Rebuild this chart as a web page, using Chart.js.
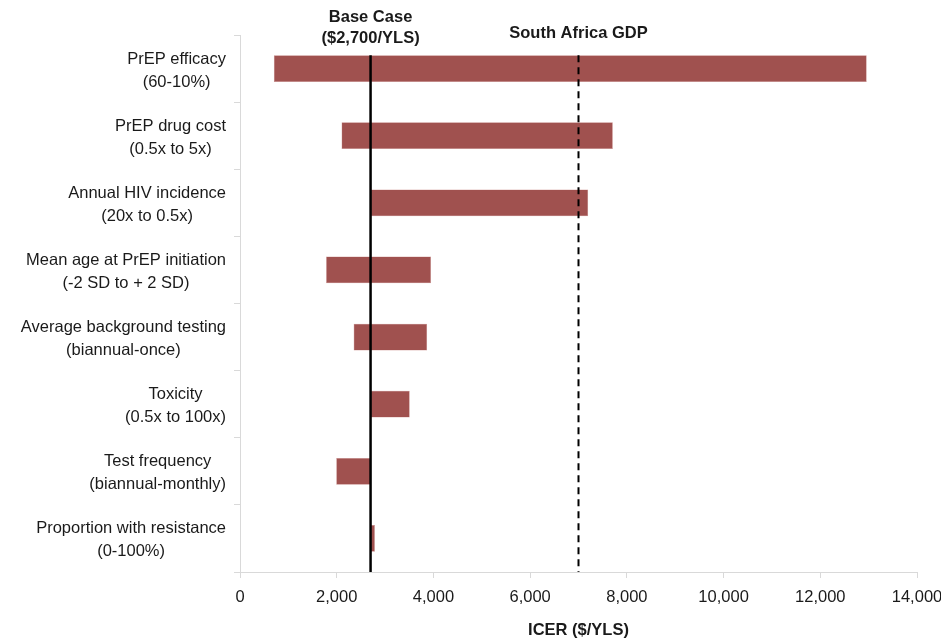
<!DOCTYPE html>
<html>
<head>
<meta charset="utf-8">
<script src="https://cdn.jsdelivr.net/npm/chart.js@4.4.0/dist/chart.umd.min.js"></script>
<style>
  html, body { margin: 0; padding: 0; background: #fff; }
  #wrap { width: 941px; height: 640px; }
</style>
</head>
<body>
<div id="wrap"><canvas id="tornado"></canvas></div>
<script>
// Parameters varied in the one-way sensitivity analysis (top to bottom)
const parameters = [
    ['PrEP efficacy', '(60-10%)'],
    ['PrEP drug cost', '(0.5x to 5x)'],
    ['Annual HIV incidence', '(20x to 0.5x)'],
    ['Mean age at PrEP initiation', '(-2 SD to + 2 SD)'],
    ['Average background testing', '(biannual-once)'],
    ['Toxicity', '(0.5x to 100x)'],
    ['Test frequency', '(biannual-monthly)'],
    ['Proportion with resistance', '(0-100%)']
];
// ICER range ($/YLS) for each parameter
const lowIcer  = [700, 2100, 2700, 1780, 2350, 2700, 1990, 2700];
const highIcer = [12960, 7710, 7200, 3950, 3870, 3510, 2700, 2790];
const xTicks = [0, 2000, 4000, 6000, 8000, 10000, 12000, 14000];

const baseCase = 2700;       // base case ICER
const gdpThreshold = 7000;   // South Africa GDP per capita

const FONT = '"Liberation Sans", Arial, sans-serif';
const FONT_SIZE = 16.5;
const TEXT = '#1a1a1a';
const AXIS = '#d9d9d9';

// Reference lines + their captions, drawn over the bars
const refLines = {
    id: 'refLines',
    afterDatasetsDraw(chart) {
        const { ctx, scales, chartArea } = chart;
        const firstBar = chart.getDatasetMeta(0).data[0];
        const top = firstBar.y - firstBar.height / 2;
        const xBase = scales.x.getPixelForValue(baseCase);
        const xGdp = scales.x.getPixelForValue(gdpThreshold);

        ctx.save();
        ctx.strokeStyle = '#000';
        ctx.lineWidth = 2.5;
        ctx.beginPath();
        ctx.moveTo(xBase, top);
        ctx.lineTo(xBase, chartArea.bottom);
        ctx.stroke();

        ctx.lineWidth = 2;
        ctx.setLineDash([7, 5]);
        ctx.beginPath();
        ctx.moveTo(xGdp, top);
        ctx.lineTo(xGdp, chartArea.bottom);
        ctx.stroke();
        ctx.setLineDash([]);

        ctx.fillStyle = TEXT;
        ctx.font = 'bold ' + FONT_SIZE + 'px ' + FONT;
        ctx.textAlign = 'center';
        ctx.textBaseline = 'middle';
        ctx.fillText('Base Case', xBase, 17);
        ctx.fillText('($2,700/YLS)', xBase, 38);
        ctx.fillText('South Africa GDP', xGdp, 33);
        ctx.restore();
    }
};

// Two-line category labels: block right-aligned, lines centred within it (Excel style)
const categoryLabels = {
    id: 'categoryLabels',
    afterDraw(chart) {
        const { ctx } = chart;
        const yScale = chart.scales.y;
        ctx.save();
        ctx.font = FONT_SIZE + 'px ' + FONT;
        ctx.fillStyle = TEXT;
        ctx.textAlign = 'center';
        ctx.textBaseline = 'middle';
        parameters.forEach((lines, i) => {
            const yc = yScale.getPixelForValue(i) + 2;
            const w = Math.max(...lines.map(l => ctx.measureText(l).width));
            const cx = yScale.right - 14 - w / 2;
            lines.forEach((l, j) => {
                ctx.fillText(l, cx, yc + (j - (lines.length - 1) / 2) * 23);
            });
        });
        ctx.restore();
    }
};

new Chart(document.getElementById('tornado').getContext('2d'), {
    type: 'bar',
    data: {
        labels: parameters,
        datasets: [{
            data: lowIcer.map((lo, i) => [lo, highIcer[i]]),
            backgroundColor: '#A0514F',
            borderColor: '#C98A88',
            borderWidth: 0.5,
            borderSkipped: false,
            barPercentage: 0.4,
            categoryPercentage: 1
        }]
    },
    options: {
        indexAxis: 'y',
        responsive: true,
        maintainAspectRatio: false,
        animation: false,
        layout: { padding: { top: 35, right: 24, left: 0, bottom: 0 } },
        plugins: {
            legend: { display: false },
            tooltip: { enabled: false }
        },
        scales: {
            x: {
                min: 0,
                max: 14000,
                afterBuildTicks: s => { s.ticks = xTicks.map(v => ({ value: v })); },
                afterFit: s => { s.height = 68; s.paddingLeft = 0; s.paddingRight = 0; },
                border: { color: AXIS, width: 1 },
                grid: { drawOnChartArea: false, color: AXIS, tickLength: 6 },
                ticks: {
                    padding: 10,
                    color: TEXT,
                    font: { family: FONT, size: FONT_SIZE },
                    maxRotation: 0,
                    callback: v => v.toLocaleString('en-US')
                },
                title: {
                    display: true,
                    text: 'ICER ($/YLS)',
                    color: TEXT,
                    font: { family: FONT, size: FONT_SIZE, weight: 'bold' },
                    padding: { top: 0, bottom: 0 }
                }
            },
            y: {
                afterFit: s => { s.width = 240; s.paddingTop = 0; s.paddingBottom = 0; },
                border: { color: AXIS, width: 1 },
                grid: { drawOnChartArea: false, color: AXIS, tickLength: 6, offset: true },
                ticks: { display: false }
            }
        }
    },
    plugins: [refLines, categoryLabels]
});
</script>
</body>
</html>
